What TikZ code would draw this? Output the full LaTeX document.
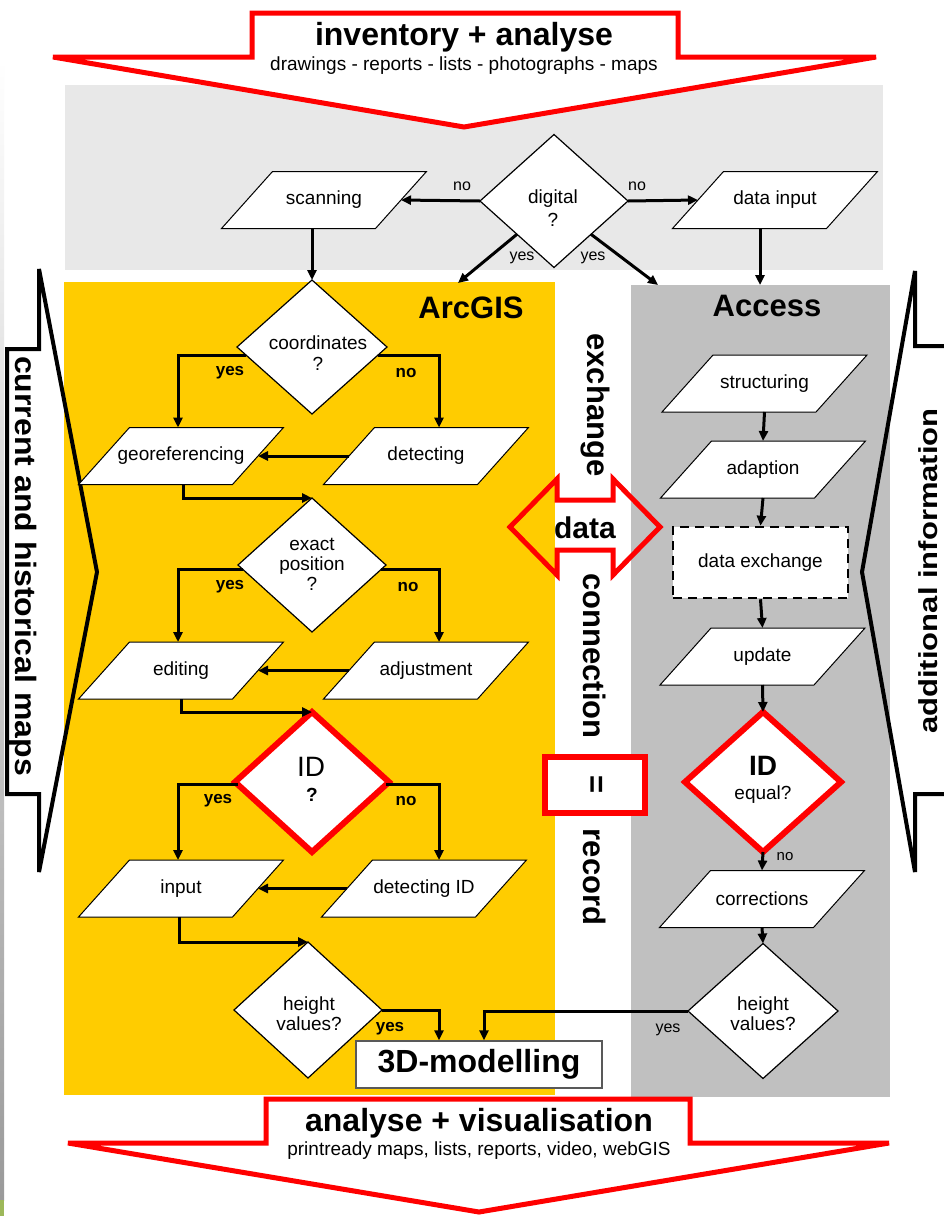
\documentclass[tikz,border=0pt]{standalone}
\usepackage{fontspec}
\setmainfont{Liberation Sans}
\usetikzlibrary{shapes.geometric,arrows.meta,calc}
\definecolor{arcy}{HTML}{FFCC00}
\definecolor{topg}{HTML}{E8E8E8}
\definecolor{accg}{HTML}{C0C0C0}
\definecolor{redl}{HTML}{FF0000}
\definecolor{stripg}{HTML}{9A9A9A}
\definecolor{stripgreen}{HTML}{9DB85A}
\newcommand\parabox[4]{%
  \filldraw[parashape] (#2-51.5,#3-28.5) -- (#2+102.5,#3-28.5) -- (#2+51.5,#3+28.5) -- (#2-102.5,#3+28.5) -- cycle;
  \node[paranode] (#1) at (#2,#3) {#4};}
\tikzset{
  parashape/.style={fill=white, draw=black, line width=1pt},
  paranode/.style={rectangle, inner sep=0pt, outer sep=0pt, minimum width=154pt, minimum height=57pt, font=\fontsize{19}{22}\selectfont},
  dia/.style 2 args={diamond, draw=black, fill=white, line width=1.2pt, inner sep=0pt, outer sep=0pt, minimum width=#1, minimum height=#2},
  reddia/.style 2 args={diamond, draw=redl, fill=white, line width=6pt, inner sep=0pt, outer sep=0pt, minimum width=#1, minimum height=#2},
  dtxt/.style={align=center, inner sep=0pt, font=\fontsize{19}{20}\selectfont},
  arr/.style={line width=3pt, -{Triangle[length=10pt,width=9pt]}},
  lab/.style={inner sep=0pt, font=\fontsize{16}{18}\selectfont},
  labb/.style={inner sep=0pt, font=\fontsize{17}{19}\selectfont\bfseries},
  bigb/.style={inner sep=0pt, font=\fontsize{32}{36}\selectfont\bfseries},
  sub/.style={inner sep=0pt, font=\fontsize{19}{22}\selectfont},
  redarrow/.style={fill=white, draw=redl, line width=5pt},
  sidearrow/.style={draw=black, line width=4pt},
}
\begin{document}
\begin{tikzpicture}[x=1pt,y=-1pt,line join=miter]
\useasboundingbox (0,0) rectangle (944,1216);
\fill[white] (0,0) rectangle (944,1216);
% left edge strip
\shade[top color=white, bottom color=stripg] (0,60) rectangle (4,1200);
\fill[stripgreen] (0,1200) rectangle (4,1216);
% panels
\fill[topg] (65,85) rectangle (883,270);
\fill[arcy] (64,282) rectangle (555,1095);
\fill[accg] (631,285) rectangle (890,1097);
% big red arrows
\filldraw[redarrow] (252,13) -- (678,13) -- (678,57) -- (876,57) -- (464,127) -- (53,57) -- (252,57) -- cycle;
\filldraw[redarrow] (266,1099) -- (690,1099) -- (690,1143) -- (889,1143) -- (479,1212) -- (68,1143) -- (266,1143) -- cycle;
\node[bigb] (title1) at (464,37) {inventory + analyse};
\node[sub] (sub1) at (464,66) {drawings - reports - lists - photographs - maps};
\node[bigb] (title2) at (479,1123) {analyse + visualisation};
\node[sub] (sub2) at (479,1151) {printready maps, lists, reports, video, webGIS};
% side arrows
\draw[sidearrow] (7,349) -- (39,349) -- (39,269) -- (97,572) -- (39,872) -- (39,794) -- (7,794) -- cycle;
\draw[sidearrow] (960,346) -- (915,346) -- (915,271) -- (862,572) -- (915,872) -- (915,794) -- (960,794);
\node[rotate=-90, inner sep=0pt, font=\fontsize{32}{34}\selectfont\bfseries] (lefttxt) at (23,566) {\scalebox{1}[0.92]{current and historical maps}};
\node[rotate=90, inner sep=0pt, font=\fontsize{31}{33}\selectfont\bfseries] (righttxt) at (928.5,571) {\scalebox{1}[0.84]{additional information}};
% data exchange connection
\draw[redl, line width=5pt] (510,527) -- (557,479) -- (557,500) -- (613,500) -- (613,479) -- (660,527) -- (613,575) -- (613,550) -- (557,550) -- (557,575) -- cycle;
\node[inner sep=0pt, font=\fontsize{30}{32}\selectfont\bfseries] (datatxt) at (585,528) {data};
\filldraw[fill=white, draw=redl, line width=6pt] (545,757) rectangle (645,813);
\node[rotate=-90, inner sep=0pt, font=\fontsize{31}{33}\selectfont\bfseries] (exch) at (595,405) {exchange};
\node[rotate=-90, inner sep=0pt, font=\fontsize{31}{33}\selectfont\bfseries] (conn) at (595,656) {connection};
\node[rotate=-90, inner sep=0pt, font=\fontsize{31}{33}\selectfont\bfseries] (eqsign) at (595,785) {=};
\node[rotate=-90, inner sep=0pt, font=\fontsize{31}{33}\selectfont\bfseries] (rec) at (595,877) {record};
% panel titles
\node[inner sep=0pt, font=\fontsize{31}{33}\selectfont\bfseries] (arcgis) at (471,308) {ArcGIS};
\node[inner sep=0pt, font=\fontsize{31}{33}\selectfont\bfseries] (access) at (767,306) {Access};
% parallelograms
\parabox{scan}{324}{200}{scanning}
\parabox{datain}{775}{200}{data input}
\parabox{georef}{181}{456}{georeferencing}
\parabox{detect}{426}{456}{detecting}
\parabox{edit}{181}{670.5}{editing}
\parabox{adjust}{426}{670.5}{adjustment}
\parabox{inp}{181}{888.5}{input}
\parabox{detid}{424}{888.5}{detecting ID}
\parabox{struct}{764.5}{383.5}{structuring}
\parabox{adapt}{763}{469.5}{adaption}
\parabox{upd}{762.5}{656.5}{update}
\parabox{corr}{762}{899}{corrections}
% diamonds
\node[dia={148pt}{133pt}] (digital) at (554,201) {};
\node[dtxt, font=\fontsize{19}{23}\selectfont] (digt) at (553,208) {digital\\?};
\node[dia={150pt}{134pt}] (coord) at (312,347) {};
\node[dtxt, font=\fontsize{19}{21}\selectfont] (coordt) at (318,353) {coordinates\\?};
\node[dia={148pt}{134pt}] (exact) at (312,565) {};
\node[dtxt] (exactt) at (312,564) {exact\\position\\?};
\node[reddia={154pt}{140pt}] (idq) at (312,782) {};
\node[inner sep=0pt, font=\fontsize{28}{30}\selectfont] (idqa) at (311,767) {ID};
\node[inner sep=0pt, font=\fontsize{19}{21}\selectfont\bfseries] (idqb) at (312,795) {?};
\node[dia={148pt}{136pt}] (hl) at (308,1010) {};
\node[dtxt] (hlt) at (309,1014) {height\\values?};
\node[reddia={156pt}{140pt}] (ide) at (763,782) {};
\node[inner sep=0pt, font=\fontsize{28}{30}\selectfont\bfseries] (idea) at (763,766) {ID};
\node[inner sep=0pt, font=\fontsize{19}{21}\selectfont] (ideb) at (763,795) {equal?};
\node[dia={150pt}{135pt}] (hr) at (763,1011) {};
\node[dtxt] (hrt) at (763,1014) {height\\values?};
% boxes
\node[draw=black, dash pattern=on 9pt off 6pt, line width=2.5pt, fill=white, minimum width=175pt, minimum height=71pt, inner sep=0pt, font=\fontsize{19}{22}\selectfont] (dex) at (760.5,562.5) {data exchange};
\node[draw=black!65, line width=1.2pt, fill=white, minimum width=246pt, minimum height=47pt, inner sep=0pt, font=\fontsize{32}{34}\selectfont\bfseries] (model) at (479,1064.5) {3D-modelling};
% free ends
\coordinate (arcin) at (458,283);
\coordinate (accin) at (658,285);
\coordinate (accTop) at (760,285);
% connectors top
\draw[arr] (digital.west) -- (scan.east);
\draw[arr] (digital.east) -- (datain.west);
\draw[arr] (digital.south west) -- (arcin);
\draw[arr] (digital.south east) -- (accin);
\draw[arr] (scan.south -| coord.north) -- (coord.north);
\draw[arr] (datain.south -| accTop) -- (accTop);
% ArcGIS connectors
\draw[arr] (coord.187) -| ([xshift=-3pt]georef.north);
\draw[arr] (coord.-7) -| ([xshift=13pt]detect.north);
\draw[arr] (detect.west) -- (georef.east);
\draw[arr] ([xshift=2pt]georef.south) |- (exact.north);
\draw[arr] (exact.184) -| ([xshift=-3pt]edit.north);
\draw[arr] (exact.-4) -| ([xshift=13pt]adjust.north);
\draw[arr] (adjust.west) -- (edit.east);
\draw[arr] (edit.south) |- (idq.north);
\draw[arr] (idq.182) -| ([xshift=-3pt]inp.north);
\draw[arr] (idq.-2) -| ([xshift=15pt]detid.north);
\draw[arr] (detid.west) -- (inp.east);
\draw[arr] ([xshift=-2pt]inp.south) |- (hl.north);
\draw[arr] (hl.east) -| ([xshift=-40pt]model.north);
\draw[arr] (hr.west) -| ([xshift=5pt]model.north);
% Access connectors
\draw[arr] (struct.south) -- (adapt.north);
\draw[arr] (adapt.south) -- (dex.north);
\draw[arr] (dex.south) -- (upd.north);
\draw[arr] (upd.south) -- (ide.north);
\draw[arr] (ide.south) -- (corr.north);
\draw[arr] (corr.south) -- (hr.north);
% labels
\node[lab] (l1) at (462,186) {no};
\node[lab] (l2) at (637,186) {no};
\node[lab] (l3) at (522,258) {yes};
\node[lab] (l4) at (593,258) {yes};
\node[labb] (l5) at (230,373) {yes};
\node[labb] (l6) at (406,373) {no};
\node[labb] (l7) at (230,587) {yes};
\node[labb] (l8) at (408,587) {no};
\node[labb] (l9) at (218,801) {yes};
\node[labb] (l10) at (406,801) {no};
\node[labb] (l11) at (390,1029) {yes};
\node[lab, font=\fontsize{15}{17}\selectfont] (l12) at (785,857) {no};
\node[lab] (l13) at (668,1030) {yes};
\end{tikzpicture}
\end{document}
